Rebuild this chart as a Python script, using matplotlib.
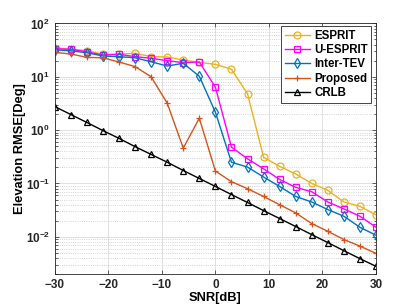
import numpy as np
import matplotlib
matplotlib.use("Agg")
import matplotlib.pyplot as plt
from matplotlib.ticker import LogLocator, NullFormatter, FixedLocator

plt.rcParams['font.family'] = ['Liberation Sans', 'DejaVu Sans']
plt.rcParams['font.weight'] = 'bold'
plt.rcParams['mathtext.default'] = 'bf'

# SNR axis
snr = [-30, -27, -24, -21, -18, -15, -12, -9, -6, -3, 0, 3, 6, 9, 12, 15, 18, 21, 24, 27, 30]

# RMSE values
esprit = [35, 32.7, 31, 26.3, 26.6, 27.5, 23.8, 23.5, 20.6, 18.6, 17.1, 13.8, 4.8,
          0.31, 0.209, 0.151, 0.100, 0.0743, 0.045, 0.0373, 0.0258]
u_esprit = [33.5, 32.7, 29.4, 25.5, 26.3, 23.8, 22.2, 20.0, 18.4, 18.9, 6.4, 0.48, 0.29,
            0.188, 0.119, 0.0845, 0.070, 0.045, 0.0333, 0.0243, 0.0151]
inter_tev = [32, 30.7, 28.2, 24.5, 23.8, 22.7, 19.1, 15.9, 17.9, 10.2, 2.17, 0.25, 0.203,
             0.132, 0.088, 0.057, 0.045, 0.0324, 0.0243, 0.0151, 0.0107]
proposed = [28.6, 26.7, 23.1, 22.7, 18.9, 15.5, 10.0, 3.2, 0.46, 1.67, 0.171, 0.108, 0.080,
            0.057, 0.040, 0.0281, 0.0177, 0.0127, 0.0089, 0.0067, 0.0049]
crlb = [2.76, 1.96, 1.39, 0.98, 0.70, 0.49, 0.35, 0.25, 0.175, 0.124, 0.088, 0.062, 0.044,
        0.031, 0.022, 0.0156, 0.011, 0.0078, 0.0055, 0.0039, 0.0028]

series = [
    ('ESPRIT', esprit, '#EDB120', 'o'),
    ('U-ESPRIT', u_esprit, '#FF00FF', 's'),
    ('Inter-TEV', inter_tev, '#0072BD', 'd'),
    ('Proposed', proposed, '#D95319', '+'),
    ('CRLB', crlb, 'black', '^'),
]

fig = plt.figure(figsize=(4.15, 3.08), dpi=100)
ax = fig.add_axes([0.132, 0.110, 0.774, 0.814])

for name, vals, col, mk in series:
    ax.semilogy(snr, vals, color=col, marker=mk, markersize=5, linewidth=1.0,
                markerfacecolor='none', markeredgewidth=0.9, label=name)

ax.set_xlim(-30, 30)
ax.set_ylim(2e-3, 100)
ax.xaxis.set_major_locator(FixedLocator([-30, -20, -10, 0, 10, 20, 30]))
ax.yaxis.set_major_locator(LogLocator(base=10, numticks=10))
ax.yaxis.set_minor_locator(LogLocator(base=10, subs=np.arange(2, 10), numticks=10))
ax.yaxis.set_minor_formatter(NullFormatter())

ax.grid(which='major', color='#dcdcdc', linewidth=0.6)
ax.grid(which='minor', axis='y', color='#c8c8c8', linestyle=':', linewidth=0.6)
ax.set_axisbelow(True)

ax.tick_params(which='both', direction='in', top=True, right=True, colors='#262626',
               labelsize=8.5, width=0.5)
ax.tick_params(which='major', length=3)
ax.tick_params(which='minor', length=1.8)
for lab in ax.get_xticklabels() + ax.get_yticklabels():
    lab.set_fontweight('bold')
for sp in ax.spines.values():
    sp.set_color('#262626')
    sp.set_linewidth(0.6)

ax.set_xlabel('SNR[dB]', fontsize=9.3, fontweight='bold', labelpad=1)
ax.set_ylabel('Elevation RMSE[Deg]', fontsize=9.3, fontweight='bold', labelpad=0)

leg = ax.legend(loc='upper right', fontsize=8.3, handlelength=2.2, borderpad=0.3,
                labelspacing=0.2, handletextpad=0.35, fancybox=False, framealpha=1,
                bbox_to_anchor=(0.985, 0.988), borderaxespad=0)
leg.get_frame().set_edgecolor('#262626')
leg.get_frame().set_linewidth(0.6)
for t in leg.get_texts():
    t.set_fontweight('bold')

fig.savefig('out.png', dpi=100)
